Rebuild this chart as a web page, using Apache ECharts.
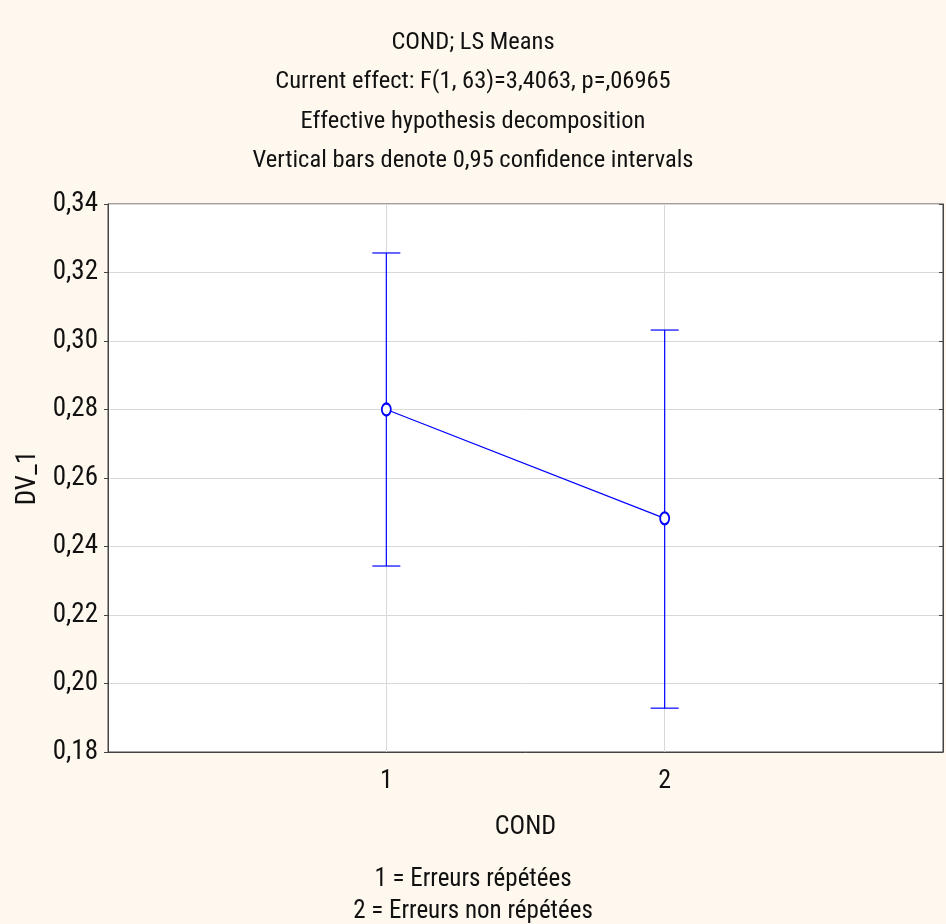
<!DOCTYPE html>
<html>
<head>
<meta charset="utf-8">
<script src="https://cdn.jsdelivr.net/npm/echarts@6/dist/echarts.min.js"></script>
<style>
html,body{margin:0;padding:0;background:#fff8ee;}
#chart{width:946px;height:924px;}
</style>
</head>
<body>
<div id="chart"></div>
<script>
const titleLines = ["COND; LS Means", "Current effect: F(1, 63)=3,4063, p=,06965", "Effective hypothesis decomposition", "Vertical bars denote 0,95 confidence intervals"];
const categories = [1, 2];
const means = [0.2800, 0.2482];
const upper = [0.3257, 0.3032];
const lower = [0.2343, 0.1928];
const yTicks = [0.18, 0.20, 0.22, 0.24, 0.26, 0.28, 0.30, 0.32, 0.34];
const xLabel = "COND";
const yLabel = "DV_1";
const legendText = ["1 = Erreurs répétées", "2 = Erreurs non répétées"];

const FONT = "'Liberation Sans Narrow', 'Arial Narrow', 'Roboto Condensed', 'Liberation Sans', Arial, sans-serif";
const BLUE = '#0000ff';
const TXT = '#111';
const chart = echarts.init(document.getElementById('chart'));

const titles = titleLines.map((t, i) => ({
  text: t, left: 'center', top: 25.5 + i * 39.3,
  textStyle: {fontFamily: FONT, fontSize: 24.5, fontWeight: 'normal', color: TXT}
}));
titles.push({text: legendText[0], left: 'center', top: 862, textStyle: {fontFamily: FONT, fontSize: 25, fontWeight: 'normal', color: TXT}});
titles.push({text: legendText[1], left: 'center', top: 894, textStyle: {fontFamily: FONT, fontSize: 25, fontWeight: 'normal', color: TXT}});

const pts = categories.map((c, i) => [c, means[i]]);
const ci = categories.map((c, i) => [c, lower[i], upper[i]]);

chart.setOption({
  backgroundColor: '#fff8ee',
  animation: false,
  title: titles,
  grid: {left: 108, right: 2, top: 204, bottom: 172, show: true, backgroundColor: '#ffffff', borderColor: '#444', borderWidth: 1},
  xAxis: {
    type: 'value', min: 0, max: 3, interval: 1,
    name: xLabel, nameLocation: 'middle', nameGap: 62,
    nameTextStyle: {fontFamily: FONT, fontSize: 26, color: TXT},
    axisLine: {show: true, lineStyle: {color: '#444'}},
    axisTick: {show: false},
    axisLabel: {fontFamily: FONT, fontSize: 26, color: TXT, margin: 16,
      formatter: v => categories.indexOf(v) >= 0 ? String(v) : ''},
    splitLine: {show: true, lineStyle: {color: '#d8d8d8', width: 1}}
  },
  yAxis: [{
    type: 'value', min: yTicks[0], max: yTicks[yTicks.length - 1], interval: 0.02,
    name: yLabel, nameLocation: 'middle', nameGap: 64, nameRotate: 90,
    nameTextStyle: {fontFamily: FONT, fontSize: 27, color: TXT},
    axisLine: {show: true, lineStyle: {color: '#444'}},
    axisTick: {show: true, inside: false, length: 4, lineStyle: {color: '#444'}},
    axisLabel: {fontFamily: FONT, fontSize: 27, color: TXT, margin: 10,
      formatter: v => v.toFixed(2).replace('.', ',')},
    splitLine: {show: true, lineStyle: {color: '#d8d8d8', width: 1}}
  }, {
    type: 'value', position: 'right', min: yTicks[0], max: yTicks[yTicks.length - 1], interval: 0.02,
    axisLine: {show: true, lineStyle: {color: '#444'}},
    axisTick: {show: true, inside: true, length: 4, lineStyle: {color: '#444'}},
    axisLabel: {show: false}, splitLine: {show: false}
  }],
  series: [{
    type: 'custom',
    data: ci,
    renderItem: (params, api) => {
      const x = api.value(0);
      const lo = api.coord([x, api.value(1)]);
      const hi = api.coord([x, api.value(2)]);
      const hw = 14;
      const style = {stroke: BLUE, lineWidth: 1.2};
      return {type: 'group', children: [
        {type: 'line', shape: {x1: lo[0], y1: lo[1], x2: hi[0], y2: hi[1]}, style},
        {type: 'line', shape: {x1: lo[0] - hw, y1: lo[1], x2: lo[0] + hw, y2: lo[1]}, style},
        {type: 'line', shape: {x1: hi[0] - hw, y1: hi[1], x2: hi[0] + hw, y2: hi[1]}, style}
      ]};
    },
    z: 3
  }, {
    type: 'line',
    data: pts,
    symbol: 'emptyCircle', symbolSize: [9, 12],
    lineStyle: {color: BLUE, width: 1.2},
    itemStyle: {color: BLUE, borderColor: BLUE, borderWidth: 1},
    z: 4
  }]
});
</script>
</body>
</html>
